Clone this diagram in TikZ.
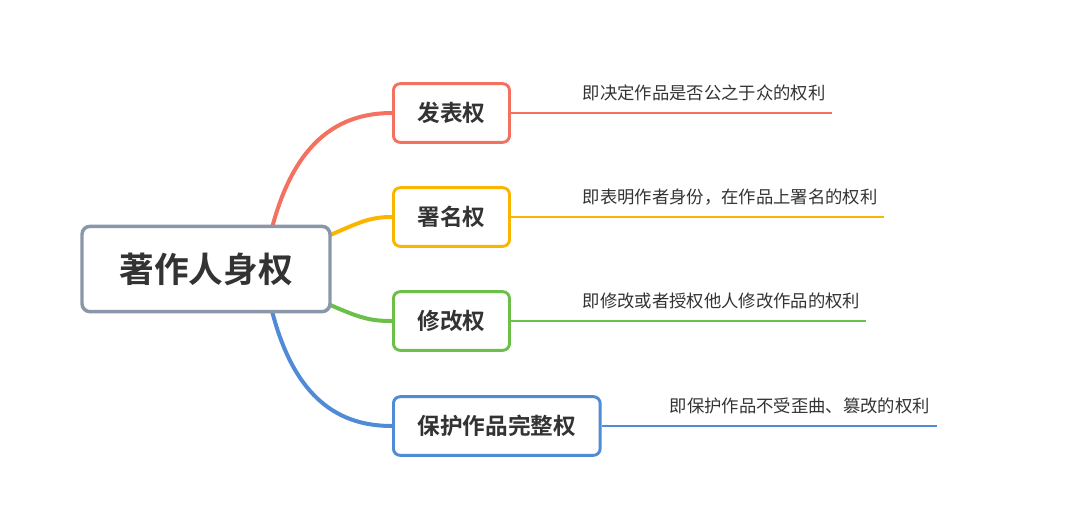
\documentclass[tikz,border=0pt]{standalone}
\usepackage{fontspec}
\setmainfont{Noto Sans CJK SC}[BoldFont={Noto Sans CJK SC Bold}]
\usepackage{tikz}
\usetikzlibrary{positioning}
\definecolor{cred}{HTML}{F47060}
\definecolor{cyel}{HTML}{F9B500}
\definecolor{cgrn}{HTML}{6CC04A}
\definecolor{cblu}{HTML}{4F8BD6}
\definecolor{cgry}{HTML}{8A97A8}
\definecolor{ctxt}{HTML}{333333}
\tikzset{
  branch/.style={draw=#1, line width=2.2pt, rounded corners=5pt, fill=white, minimum height=44pt,
    inner xsep=18pt, font=\fontsize{17}{20}\selectfont\bfseries, text=ctxt, anchor=west},
  desc/.style={font=\fontsize{13}{15}\selectfont, text=ctxt, anchor=south west},
  limb/.style={draw=#1, line width=3pt}
}
\begin{document}
\begin{tikzpicture}[x=0.75pt, y=-0.75pt]
\useasboundingbox (0,0) rectangle (1080,519);
% --- curves behind the boxes ---
\coordinate (ra) at (272,228);
\coordinate (rb) at (328,236);
\coordinate (rc) at (328,304);
\coordinate (rd) at (272,311);
\draw[limb=cred] (ra) .. controls (295,140) and (340,113) .. (392,113);
\draw[limb=cyel] (rb) .. controls (360,222) and (370,217) .. (392,217);
\draw[limb=cgrn] (rc) .. controls (360,318) and (370,321) .. (392,321);
\draw[limb=cblu] (rd) .. controls (295,400) and (340,426) .. (392,426);
% --- root ---
\node[draw=cgry, line width=2.6pt, rounded corners=6pt, fill=white, minimum width=186pt, minimum height=64pt,
  font=\fontsize{26}{30}\selectfont\bfseries, text=ctxt] (root) at (206,269) {著作人身权};
% --- branches ---
\node[branch=cred] (fb) at (392,113) {发表权};
\node[branch=cyel] (sm) at (392,217) {署名权};
\node[branch=cgrn] (xg) at (392,321) {修改权};
\node[branch=cblu] (bh) at (392,426) {保护作品完整权};
\coordinate (fbe) at (832,113);
\coordinate (sme) at (884,217);
\coordinate (xge) at (866,321);
\coordinate (bhe) at (937,426);
\draw[cred, line width=2pt] (fb.east) -- (fbe);
\draw[cyel, line width=2pt] (sm.east) -- (sme);
\draw[cgrn, line width=2pt] (xg.east) -- (xge);
\draw[cblu, line width=2pt] (bh.east) -- (bhe);
\node[desc] at (578,106) {即决定作品是否公之于众的权利};
\node[desc] at (578,210) {即表明作者身份，在作品上署名的权利};
\node[desc] at (578,314) {即修改或者授权他人修改作品的权利};
\node[desc] at (665,419) {即保护作品不受歪曲、篡改的权利};
\end{tikzpicture}
\end{document}
